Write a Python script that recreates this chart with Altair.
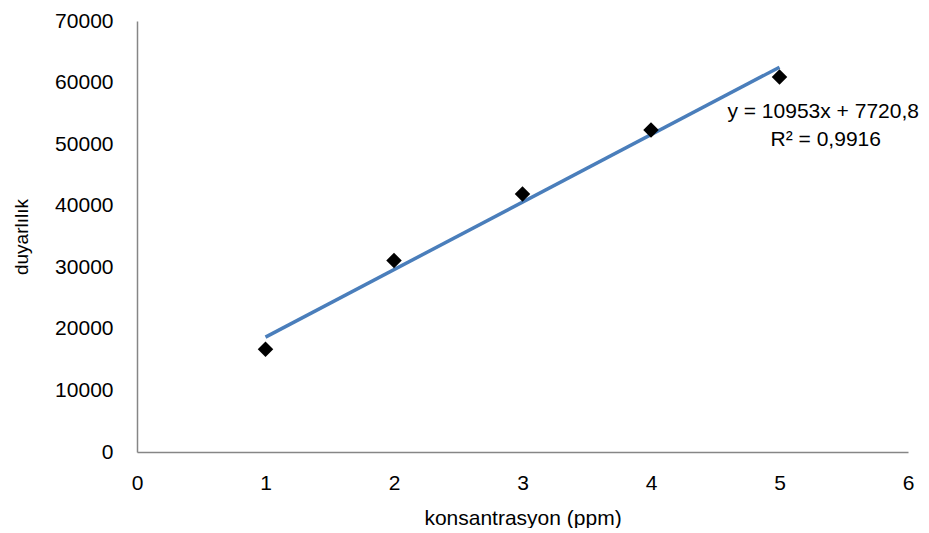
import altair as alt
import pandas as pd

konsantrasyon = [1, 2, 3, 4, 5]
duyarlilik = [16700, 31100, 41900, 52300, 60900]

eq_lines = ["y = 10953x + 7720,8", "R² = 0,9916"]
eq_x = [5.34, 5.36]
eq_y = [55200, 50600]

x_ticks = [0, 1, 2, 3, 4, 5, 6]
y_ticks = [0, 10000, 20000, 30000, 40000, 50000, 60000, 70000]

df = pd.DataFrame({"x": konsantrasyon, "y": duyarlilik})
ann = pd.DataFrame({"x": eq_x, "y": eq_y, "t": eq_lines})

FONT = "Liberation Sans"

xs = alt.Scale(domain=[0, 6], nice=False)
ys = alt.Scale(domain=[0, 70000], nice=False)

x_axis = alt.Axis(values=x_ticks, title="konsantrasyon (ppm)", grid=False, ticks=False,
                  domainColor="#868686", domainWidth=1.5, labelPadding=20, titlePadding=14,
                  labelFontSize=21, titleFontSize=21, labelColor="black", titleColor="black",
                  labelFont=FONT, titleFont=FONT, titleFontWeight="normal", format="d",
                  labelFlush=False)
y_axis = alt.Axis(values=y_ticks, title="duyarlılık", grid=False, ticks=False,
                  domainColor="#868686", domainWidth=1.5, labelPadding=24, titlePadding=23,
                  labelFontSize=21, titleFontSize=19, labelColor="black", titleColor="black",
                  labelFont=FONT, titleFont=FONT, titleFontWeight="normal", format="d",
                  labelFlush=False)

points = alt.Chart(df).mark_point(shape="diamond", filled=True, color="black", size=240, opacity=1).encode(
    x=alt.X("x:Q", scale=xs, axis=x_axis),
    y=alt.Y("y:Q", scale=ys, axis=y_axis),
)

trend = alt.Chart(df).transform_regression("x", "y", extent=[1, 5]).mark_line(
    color="#4A7EBB", strokeWidth=3.5
).encode(
    x=alt.X("x:Q", scale=xs),
    y=alt.Y("y:Q", scale=ys),
)

text = alt.Chart(ann).mark_text(font=FONT, fontSize=21, color="black", align="center", baseline="middle").encode(
    x=alt.X("x:Q", scale=xs),
    y=alt.Y("y:Q", scale=ys),
    text="t:N",
)

chart = alt.layer(trend, points, text).properties(
    width=771, height=431,
    autosize=alt.AutoSizeParams(type="none"),
    padding={"left": 129, "top": 13, "right": 12, "bottom": 76},
    background="white",
).configure_view(stroke=None)

chart.save("out.html", embed_options={"renderer": "svg", "actions": False})
